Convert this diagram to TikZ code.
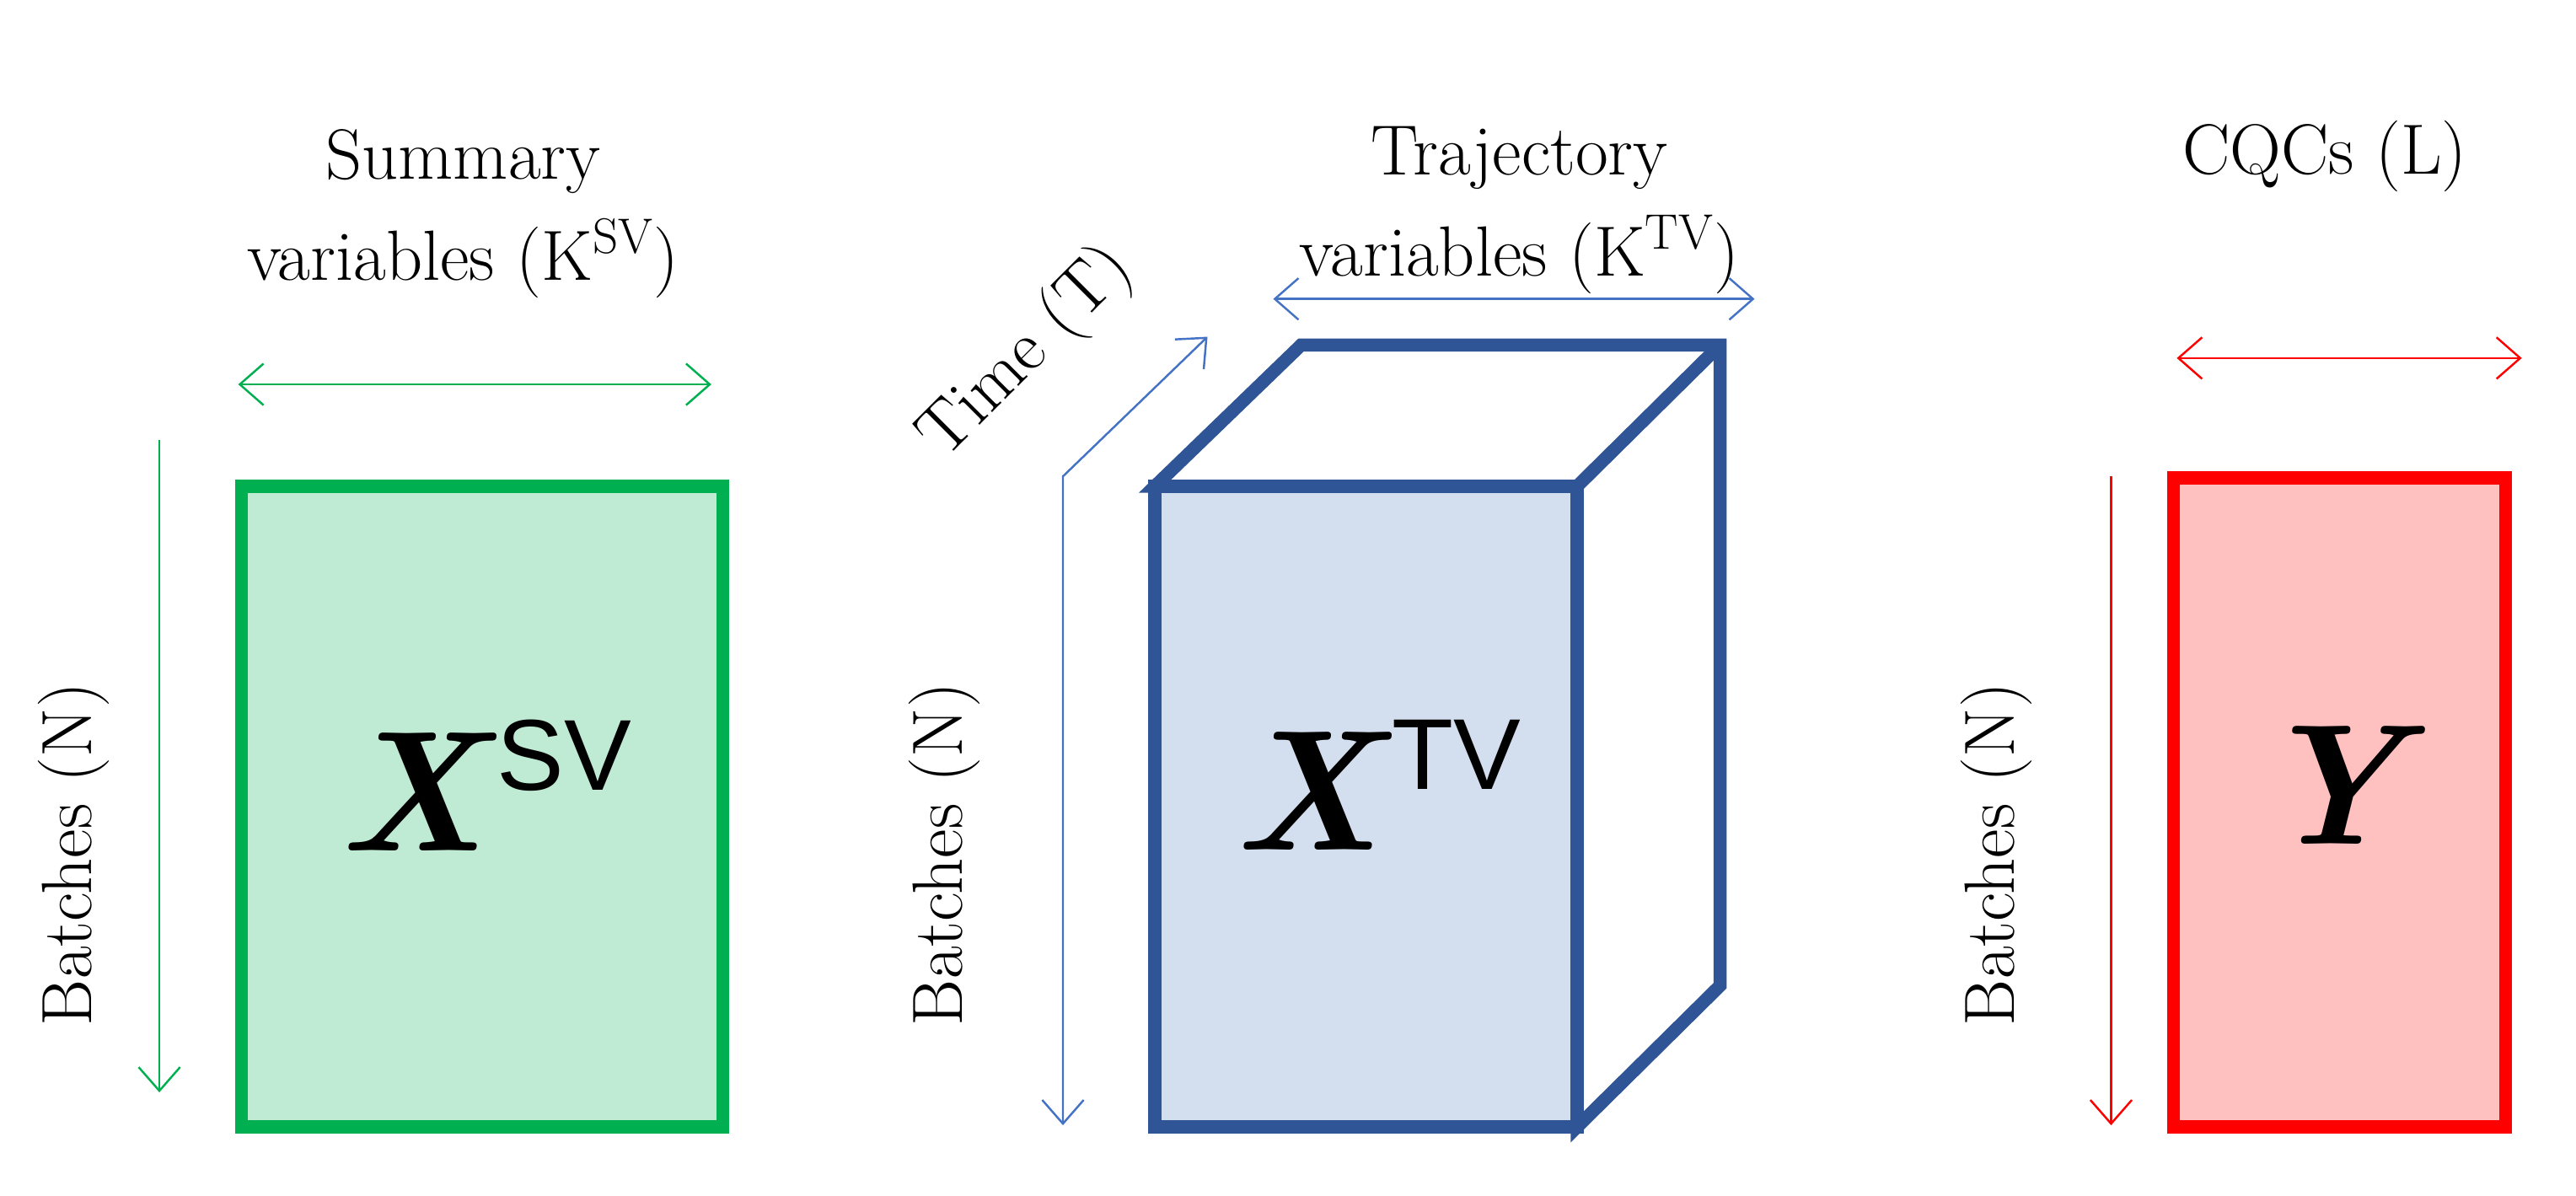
\documentclass[tikz,border=0pt]{standalone}
\usepackage{fontspec}
\newfontfamily\sansf{Liberation Sans}
\usetikzlibrary{arrows.meta}
\definecolor{gS}{HTML}{00B050}\definecolor{gF}{HTML}{BFEBD4}
\definecolor{bS}{HTML}{2F5597}\definecolor{bF}{HTML}{D3DEEE}\definecolor{bA}{HTML}{4472C4}
\definecolor{rS}{HTML}{FF0000}\definecolor{rF}{HTML}{FFC0C0}
\begin{document}
\begin{tikzpicture}[x=0.01949cm,y=-0.01949cm,
 box/.style={line width=4.4pt,line join=miter},
 dim/.style={line width=0.7pt,{Straight Barb[length=8pt,width=14pt]}-{Straight Barb[length=8pt,width=14pt]}},
 one/.style={line width=0.7pt,-{Straight Barb[length=8pt,width=14pt]}},
 lab/.style={font=\fontsize{24}{34}\selectfont,align=center},
 big/.style={font=\fontsize{58}{66}\selectfont}]
\useasboundingbox (0,0) rectangle (1568,728);
% green
\draw[box,draw=gS,fill=gF] (147,296) rectangle (440,686);
\coordinate (g1) at (145,234); \coordinate (g2) at (433,234);
\draw[dim,gS] (g1) -- (g2);
\coordinate (g3) at (97,268); \coordinate (g4) at (97,665);
\draw[one,gS] (g3) -- (g4);
\node[lab] (t1) at (282,130) {Summary\\variables (K\textsuperscript{SV})};
\node[lab,rotate=90] (b1) at (45,520) {Batches (N)};
\node[big] (x1) at (295,478) {\textbf{\textit{X}}{\sansf\fontsize{34}{34}\selectfont\raisebox{0.6em}{SV}}};
% blue
\draw[box,draw=bS,fill=white] (703,296) -- (792,210) -- (1047,210) -- (1047,600) -- (960,686) -- (960,296) -- cycle;
\draw[box,draw=bS] (960,296) -- (1047,210);
\draw[box,draw=bS,fill=bF] (703,296) rectangle (960,686);
\coordinate (ta) at (647,685); \coordinate (tb) at (647,290); \coordinate (tc) at (735,205);
\draw[dim,bA] (ta) -- (tb) -- (tc);
\coordinate (h1) at (775,182); \coordinate (h2) at (1068,182);
\draw[dim,bA] (h1) -- (h2);
\node[lab,rotate=45,inner sep=0pt] (tt) at (625,215) {Time (T)};
\node[lab] (t2) at (925,128) {Trajectory\\variables (K\textsuperscript{TV})};
\node[lab,rotate=90] (b2) at (575,520) {Batches (N)};
\node[big] (x2) at (838,478) {\textbf{\textit{X}}{\sansf\fontsize{34}{34}\selectfont\raisebox{0.6em}{TV}}};
% red
\draw[box,draw=rS,fill=rF] (1323,291) rectangle (1525,686);
\coordinate (r1) at (1325,218); \coordinate (r2) at (1535,218);
\draw[dim,rS] (r1) -- (r2);
\coordinate (r3) at (1285,290); \coordinate (r4) at (1285,685);
\draw[one,rS] (r3) -- (r4);
\node[lab] (t3) at (1415,95) {CQCs (L)};
\node[lab,rotate=90] (b3) at (1215,520) {Batches (N)};
\node[big] (y) at (1425,478) {\textbf{\textit{Y}}};
\end{tikzpicture}
\end{document}
